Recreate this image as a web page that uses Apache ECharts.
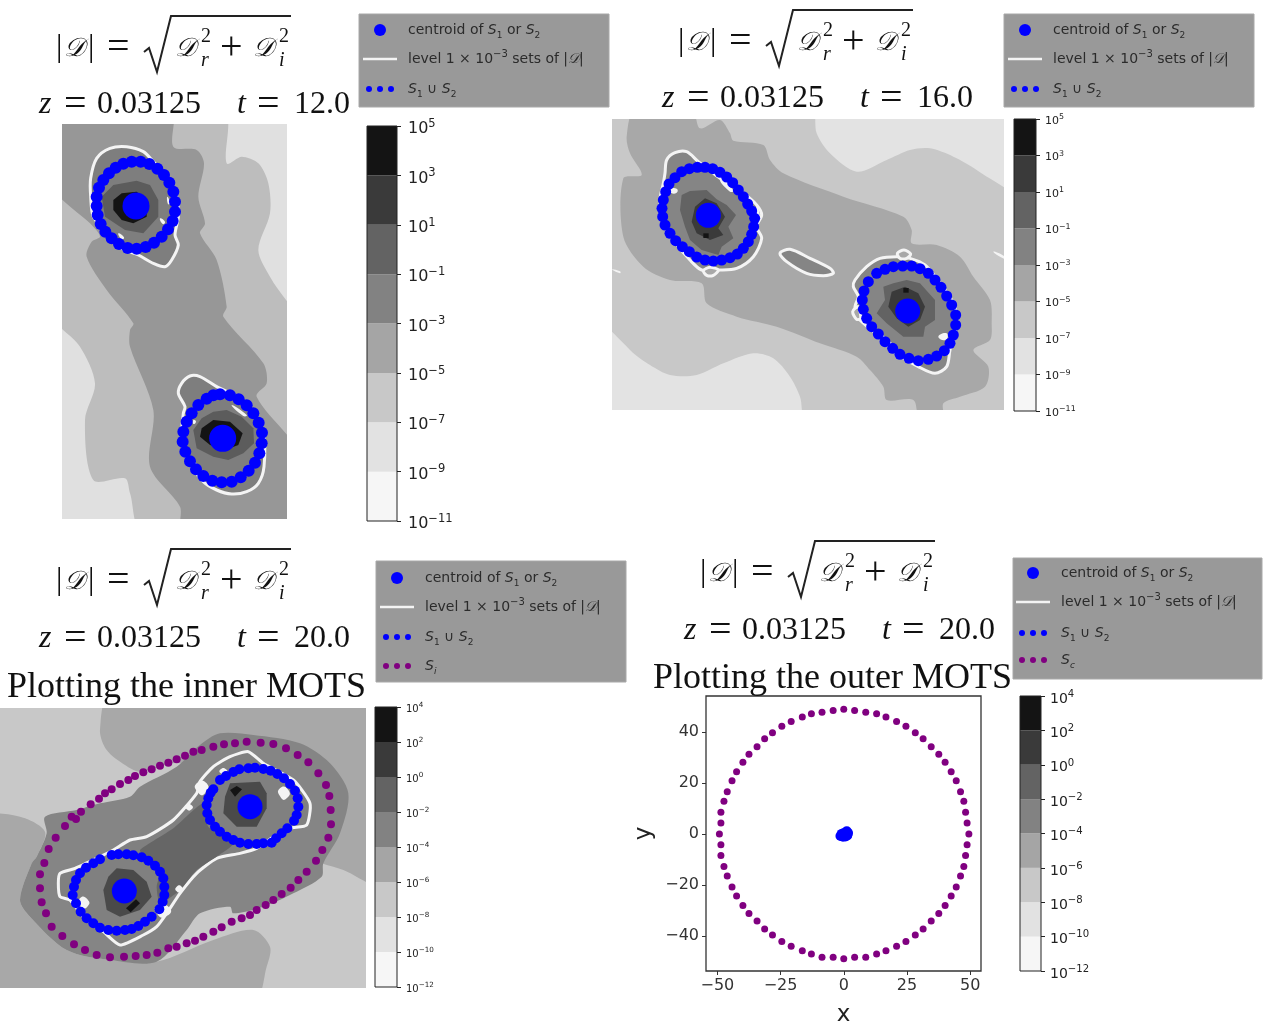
<!DOCTYPE html>
<html>
<head>
<meta charset="utf-8">
<style>html, body { margin: 0; background: #fff } #chart { width: 1263px; height: 1033px; filter: blur(0.5px) }</style>
<script src="https://cdn.jsdelivr.net/npm/echarts@6/dist/echarts.min.js"></script>
</head>
<body>
<div id="chart"></div>
<script>
// band colours, bottom to top, and tick exponents of the colour bars
const barGreys = ['#f6f6f6', '#e2e2e2', '#c8c8c8', '#a5a5a5', '#828282', '#636363', '#3a3a3a', '#141414']
const labelsOdd = ['−11', '−9', '−7', '−5', '−3', '−1', '1', '3', '5']
const labelsEven = ['−12', '−10', '−8', '−6', '−4', '−2', '0', '2', '4']

// t = 12
const a1Band = [[0,-30],[518,-30],[530,130],[575,110],[625,130],[655,190],[660,280],[625,390],[660,470],[760,640],[760,1240],[280,1240],[240,1120],[225,1075],[130,1080],[105,900],[135,790],[90,680],[0,575]]
const a1Mid = [[0,-30],[362,-30],[370,80],[440,90],[462,130],[445,230],[465,310],[450,340],[500,420],[530,560],[520,590],[640,730],[650,790],[620,830],[760,1020],[760,1240],[397,1240],[390,1160],[300,1040],[310,870],[240,680],[240,630],[250,610],[170,510],[110,410],[125,365],[150,350],[130,320],[0,190]]
const a1ContourA = [[122,175],[140,115],[180,85],[230,80],[280,95],[310,125],[350,170],[380,230],[385,290],[375,345],[385,375],[365,420],[345,440],[310,430],[265,405],[215,385],[165,330],[130,290],[122,230]]
const a1ContourB = [[385,820],[395,790],[420,768],[450,770],[500,800],[560,830],[610,880],[640,940],[642,1040],[625,1090],[590,1115],[545,1122],[500,1110],[460,1085],[420,1030],[395,960],[400,880],[405,860]]
const a1InnerA = [[260,182],[300,195],[325,240],[325,290],[280,340],[225,330],[165,290],[155,230],[190,195]]
const a1InnerB = [[490,875],[530,870],[575,890],[610,925],[612,970],[580,1000],[535,1020],[490,1010],[440,985],[430,930],[455,895]]
const a1CoreA = [[190,240],[215,220],[260,215],[290,240],[290,290],[250,310],[215,300],[190,270]]
const a1CoreB = [[455,925],[490,900],[540,905],[578,940],[565,975],[525,990],[480,975],[450,950]]
const a1Flecks = [[[205,340],[222,352],[215,358]], [[352,230],[360,250],[354,252]], [[330,295],[345,305],[338,312]], [[545,855],[590,885],[580,888]], [[430,900],[438,905],[430,912]], [[430,1025],[450,1040],[440,1042]]]
const a1RingA = [[245,125],[272,125],[298,132],[322,146],[342,165],[358,188],[370,215],[375,245],[375,275],[368,303],[354,328],[335,350],[312,368],[287,381],[260,386],[233,384],[207,372],[185,355],[166,335],[152,312],[143,285],[140,258],[140,230],[147,203],[160,180],[177,160],[197,143],[220,131]]
const a1RingB = [[510,823],[540,826],[566,838],[590,856],[610,880],[626,908],[636,938],[635,970],[628,1000],[615,1028],[596,1052],[572,1072],[545,1085],[515,1087],[487,1082],[460,1068],[438,1048],[420,1024],[406,995],[398,965],[400,935],[410,905],[425,880],[445,855],[470,836],[490,826]]
const a1Centroids = [[258,258],[518,955]]

// t = 16
const a2Band = [[-40,-20],[600,-20],[620,70],[660,130],[740,185],[830,150],[900,120],[960,115],[1030,140],[1100,180],[1230,290],[1230,950],[595,950],[570,860],[540,800],[490,745],[430,730],[340,760],[260,795],[180,795],[120,765],[60,720],[-40,590]]
const a2Mid = [[75,0],[245,0],[270,55],[330,30],[360,70],[370,92],[460,105],[480,150],[520,190],[700,260],[880,320],[905,360],[905,400],[980,405],[1050,440],[1090,500],[1140,570],[1145,640],[1140,690],[1090,720],[1135,770],[1125,830],[1050,860],[1000,880],[1000,930],[930,930],[910,870],[830,870],[820,830],[780,780],[740,740],[630,700],[500,650],[380,620],[290,580],[275,520],[180,510],[100,470],[40,380],[40,205],[95,195],[60,130],[50,80]]
const a2ContourA = [[165,190],[170,150],[195,128],[230,125],[265,155],[330,205],[400,250],[440,285],[455,315],[440,350],[455,385],[430,440],[380,475],[325,480],[275,480],[240,450],[190,390],[160,340],[150,270],[160,220]]
const a2ContourB = [[735,510],[770,470],[810,445],[860,440],[900,445],[945,465],[990,520],[1030,580],[1040,640],[1020,720],[1010,770],[975,790],[925,770],[860,730],[810,680],[745,625],[735,590],[745,560],[730,530]]
const a2Sliver = [[510,430],[540,418],[600,445],[660,475],[670,490],[640,497],[590,490],[530,455]]
const a2LoopA = [[280,482],[300,472],[325,480],[310,496],[290,496]]
const a2LoopB = [[862,430],[882,420],[902,432],[890,445],[870,445]]
const a2LoopC = [[745,590],[728,605],[740,628],[752,625]]
const a2InnerA = [[215,255],[240,243],[290,240],[320,268],[350,285],[378,315],[355,350],[370,385],[335,410],[325,435],[275,420],[240,390],[225,350],[210,300]]
const a2InnerB = [[820,530],[850,520],[890,510],[930,520],[975,570],[975,630],[945,650],[940,680],[880,680],[830,640],[800,610],[825,570]]
const a2CoreA = [[255,290],[285,265],[320,280],[345,320],[325,355],[340,375],[300,390],[260,370],[245,335]]
const a2CoreB = [[845,545],[885,530],[925,550],[945,590],[930,630],[895,650],[860,625],[835,590]]
const a2SpecA = [[280,370],[296,370],[296,384],[280,384]]
const a2SpecB = [[880,534],[896,534],[896,548],[880,548]]
const a2Flecks = [[[180,238],[200,236],[200,248],[182,248]], [[330,210],[370,240],[360,245]], [[985,680],[1010,670],[1008,690]], [[810,670],[860,715],[850,718]], [[440,290],[450,320],[440,325]], [[6,478],[30,484],[30,490]], [[1150,425],[1182,438],[1182,446]]]
const a2RingA = [[215,185],[238,176],[262,172],[285,172],[308,176],[330,187],[350,201],[368,218],[385,240],[400,260],[413,282],[425,303],[434,325],[431,350],[425,373],[415,395],[400,415],[382,432],[360,443],[335,450],[310,453],[285,450],[260,441],[238,425],[217,410],[197,392],[180,370],[165,345],[158,320],[156,295],[160,270],[167,245],[177,222],[195,203]]
const a2RingB = [[800,490],[825,478],[850,470],[878,468],[905,468],[930,476],[955,490],[975,510],[993,532],[1010,558],[1025,585],[1037,615],[1037,645],[1030,675],[1020,700],[1003,722],[980,738],[955,748],[925,752],[897,745],[870,733],[848,715],[825,695],[805,672],[785,650],[770,625],[760,598],[757,570],[762,543],[775,515]]
const a2Centroids = [[295,316],[893,603]]

// t = 20, inner
const a3Top = [[335,-20],[1140,-20],[1140,550],[1030,510],[965,490],[860,450],[650,270],[540,190],[420,215],[375,195],[320,150],[300,90]]
const a3Low = [[-40,355],[60,350],[135,395],[110,470],[95,490],[60,600],[90,650],[200,750],[330,780],[470,785],[640,720],[760,690],[810,740],[800,800],[760,900],[-40,900]]
const a3Mid = [[135,350],[230,330],[300,310],[390,290],[420,260],[530,200],[600,135],[660,100],[760,105],[900,130],[990,190],[1045,280],[1020,400],[970,490],[965,530],[880,580],[790,620],[700,640],[690,620],[600,640],[560,690],[470,785],[330,780],[200,750],[90,650],[60,600],[95,490],[110,470],[140,400]]
const a3Contour = [[180,520],[225,505],[300,470],[340,450],[390,420],[440,410],[520,360],[590,280],[600,245],[640,200],[690,170],[745,155],[790,190],[880,240],[930,310],[920,375],[870,385],[820,410],[770,445],[720,460],[650,475],[590,520],[540,580],[500,640],[470,680],[430,705],[360,735],[310,695],[250,650],[210,600],[180,590],[175,550]]
const a3Neck = [[420,450],[520,385],[610,310],[625,380],[700,430],[650,470],[590,510],[540,570],[480,610],[470,560],[480,510],[430,465]]
const a3InnerA = [[675,290],[690,250],[780,245],[800,280],[800,325],[770,380],[710,380],[670,340]]
const a3InnerB = [[350,505],[400,510],[440,545],[455,590],[420,630],[360,650],[320,630],[310,570],[325,530]]
const a3SpecA = [[690,270],[710,258],[726,268],[705,290]]
const a3SpecB = [[378,625],[408,598],[420,610],[392,637]]
const a3Flecks = [[[662,208],[678,208],[678,220],[662,220]], [[560,316],[575,316],[575,328],[560,328]], [[530,560],[545,560],[545,574],[530,574]], [[590,250],[620,250],[615,280],[595,278]], [[840,265],[865,270],[860,295],[842,292]], [[240,595],[262,598],[262,620],[242,620]], [[470,620],[510,625],[495,650],[470,640]]]
const a3RingA = [[745,205],[765,203],[790,207],[812,212],[832,222],[852,235],[870,252],[885,272],[893,295],[895,320],[890,345],[882,362],[862,385],[845,400],[828,415],[815,428],[790,430],[770,432],[745,432],[720,428],[700,420],[680,410],[660,395],[645,380],[630,360],[622,340],[620,315],[625,295],[632,278],[640,268],[660,240],[678,228],[700,216],[718,208]]
const a3RingB = [[222,560],[228,540],[240,520],[258,503],[280,490],[300,478],[335,465],[355,463],[380,463],[400,466],[425,472],[445,482],[465,497],[480,515],[490,535],[493,560],[493,585],[488,605],[478,628],[455,650],[435,665],[415,678],[395,687],[375,690],[350,692],[325,690],[300,683],[280,670],[260,655],[242,635],[228,610],[218,585]]
const a3Outer = [[740,125],[705,130],[672,133],[640,140],[605,150],[580,155],[555,167],[530,178],[505,188],[480,197],[455,208],[430,217],[405,228],[385,240],[360,252],[335,268],[315,280],[297,296],[272,313],[243,335],[228,357],[215,350],[195,378],[167,413],[146,447],[133,489],[120,523],[120,565],[125,607],[138,640],[155,680],[187,708],[222,733],[255,750],[290,765],[330,772],[372,770],[407,768],[440,765],[472,758],[505,745],[530,740],[560,730],[585,722],[610,710],[640,695],[665,682],[695,665],[725,655],[750,645],[770,630],[797,615],[820,600],[845,582],[872,563],[895,540],[920,515],[948,482],[967,450],[985,413],[993,373],[992,330],[988,288],[978,255],[955,220],[925,187],[893,165],[858,145],[820,132],[782,128]]
const a3Centroids = [[750,320],[373,573]]

// t = 20, outer
const xTicks = [-50, -25, 0, 25, 50]
const yTicks = [-40, -20, 0, 20, 40]
const outerMots = [[0,48.9],[4.3,48.4],[8.7,47.7],[13,47.1],[16.7,45.9],[20.9,44.1],[24.6,42.2],[28.3,39.7],[31.4,37.3],[34.6,34.2],[37.6,31.2],[40.1,28.1],[42.5,24.4],[44.5,20.8],[46.2,16.5],[47.5,12.8],[48.2,8.5],[48.8,4.3],[49.5,0],[48.8,-4.3],[48.2,-8.5],[47.5,-12.8],[46.2,-16.5],[44.5,-20.8],[42.5,-24.4],[40.1,-28.1],[37.6,-31.2],[34.6,-34.2],[31.4,-37.3],[28.3,-39.7],[24.6,-42.2],[20.9,-44.1],[16.7,-45.9],[13,-47.1],[8.7,-48.4],[4.3,-48.4],[0,-49],[-4.2,-48.4],[-8.6,-48.4],[-12.8,-47.1],[-16.4,-45.9],[-20.8,-44.1],[-24.5,-42.2],[-28.2,-39.7],[-31.3,-37.3],[-34.3,-34.2],[-37.5,-31.2],[-39.9,-28.1],[-42.4,-24.4],[-44.2,-20.8],[-46.1,-16.5],[-47.4,-12.8],[-48.6,-8.5],[-48.6,-4.3],[-49.2,0],[-48.6,4.3],[-48.6,8.5],[-47.4,12.8],[-46.1,16.5],[-44.2,20.8],[-42.4,24.4],[-39.9,28.1],[-37.5,31.2],[-34.3,34.2],[-31.3,37.3],[-28.2,39.7],[-24.5,42.2],[-20.8,44.1],[-16.4,45.9],[-12.8,47.1],[-8.6,47.7],[-4.2,48.4]]
const innerBlob = [[-1.3,-0.8],[-0.8,0],[-0.3,-1.1],[0.2,-0.5],[0.7,0.5],[1.2,1],[1.7,0.3],[1.4,-0.6],[0.7,-1],[-0.1,0.2]]

const grid = [], xAxis = [], yAxis = [], series = [], graphic = []
const whiteLine = '#f4f4f4'
const serif = '"Liberation Serif"'
const sans = '"DejaVu Sans"'

const addMap = (box, xr, yr, bg) => {
	grid.push({ left: box[0], top: box[1], width: box[2], height: box[3], show: true, borderWidth: 0, backgroundColor: bg })
	xAxis.push({ gridIndex: grid.length - 1, type: 'value', min: xr[0], max: xr[1], show: false })
	yAxis.push({ gridIndex: grid.length - 1, type: 'value', min: yr[0], max: yr[1], inverse: true, show: false })
	return grid.length - 1
}

const shape = (i, pts, fill, stroke, smooth) => series.push({
	type: 'custom', xAxisIndex: i, yAxisIndex: i, clip: true, silent: true, data: pts,
	renderItem: (params, api) => params.dataIndex ? null : {
		type: 'polygon',
		shape: { points: pts.map(p => api.coord(p)), smooth: smooth || 0 },
		style: { fill: fill, stroke: stroke, lineWidth: stroke ? 3 : 0 }
	}
})

const dots = (i, pts, color, size) => series.push({
	type: 'scatter', xAxisIndex: i, yAxisIndex: i, silent: true, data: pts,
	symbolSize: size, itemStyle: { color: color, opacity: 1 }
})

const addBar = (box, labels, fontSize, margin) => {
	grid.push({ left: box[0], top: box[1], width: box[2], height: box[3], show: true, borderWidth: 0, backgroundColor: '#fff' })
	const i = grid.length - 1
	xAxis.push({ gridIndex: i, type: 'value', min: 0, max: 1, show: false })
	yAxis.push({
		gridIndex: i, type: 'value', position: 'right', min: 0, max: labels.length - 1, interval: 1,
		splitLine: { show: false }, axisLine: { show: false, onZero: false },
		axisTick: { length: 4, lineStyle: { color: '#222' } },
		axisLabel: {
			margin: margin,
			padding: [Math.round(fontSize * 0.4), 0, 0, 0],
			formatter: v => '{a|10}{b|' + labels[v] + '}',
			rich: {
				a: { color: '#222', fontSize: fontSize, fontFamily: sans, lineHeight: fontSize * 1.4 },
				b: { color: '#222', fontSize: fontSize * 0.72, fontFamily: sans, lineHeight: fontSize * 1.4, verticalAlign: 'top' }
			}
		}
	})
	series.push({
		type: 'custom', xAxisIndex: i, yAxisIndex: i, silent: true, data: barGreys,
		renderItem: (params, api) => {
			const a = api.coord([0, params.dataIndex + 1])
			const b = api.coord([1, params.dataIndex])
			return { type: 'rect', shape: { x: a[0], y: a[1], width: b[0] - a[0], height: b[1] - a[1] }, style: { fill: barGreys[params.dataIndex] } }
		}
	})
	graphic.push({
		type: 'rect', silent: true, z: 10,
		shape: { x: box[0], y: box[1], width: box[2], height: box[3] },
		style: { fill: 'none', stroke: '#222', lineWidth: 1 }
	})
}

const say = (x, y, text, font, style) => graphic.push({
	type: 'text', x: x, y: y, silent: true,
	style: Object.assign({ text: text, font: font, fill: '#111', verticalAlign: 'middle' }, style)
})

// |D| = sqrt(Dr^2 + Di^2) and the z, t line underneath
const header = (dx, dy, zx, zy, t) => {
	const big = '32px ' + serif, wide = '40px ' + serif, it = 'italic ' + big, cal = 'italic 26px ' + serif
	const small = '20px ' + serif, sub = 'italic 20px ' + serif
	say(dx + 56, dy + 48, '|', big)
	say(dx + 64, dy + 49, '𝒟', cal)
	say(dx + 88, dy + 48, '|', big)
	say(dx + 107, dy + 48, '=', wide)
	graphic.push({
		type: 'polyline', silent: true,
		shape: { points: [[dx + 144, dy + 52], [dx + 149, dy + 48], [dx + 157, dy + 72], [dx + 171, dy + 16], [dx + 291, dy + 16]] },
		style: { stroke: '#222', lineWidth: 2, fill: 'none' }
	})
	say(dx + 175, dy + 49, '𝒟', cal)
	say(dx + 201, dy + 37, '2', small)
	say(dx + 201, dy + 61, 'r', sub)
	say(dx + 220, dy + 48, '+', wide)
	say(dx + 253, dy + 49, '𝒟', cal)
	say(dx + 279, dy + 37, '2', small)
	say(dx + 279, dy + 61, 'i', sub)
	say(zx, zy, 'z', it)
	say(zx + 25, zy, '=', wide)
	say(zx + 58, zy, '0.03125', big)
	say(zx + 198, zy, 't', it)
	say(zx + 218, zy, '=', wide)
	say(zx + 255, zy, t, big)
}

const legendRich = {
	t: { font: '14px ' + sans, fill: '#2b2b2b', lineHeight: 20 },
	i: { font: 'italic 14px ' + sans, fill: '#2b2b2b', lineHeight: 20 },
	u: { font: '10px ' + sans, fill: '#2b2b2b', lineHeight: 20, verticalAlign: 'top' },
	s: { font: '9px ' + sans, fill: '#2b2b2b', lineHeight: 20, verticalAlign: 'bottom' },
	si: { font: 'italic 9px ' + sans, fill: '#2b2b2b', lineHeight: 20, verticalAlign: 'bottom' }
}

const legend = (box, rows, iconX, textX, last) => {
	graphic.push({
		type: 'rect', silent: true,
		shape: { x: box[0], y: box[1], width: box[2], height: box[3] },
		style: { fill: '#999999', stroke: '#a8a8a8', lineWidth: 1 }
	})
	graphic.push({ type: 'circle', silent: true, shape: { cx: iconX, cy: rows[0], r: 6 }, style: { fill: '#0000ff' } })
	graphic.push({ type: 'line', silent: true, shape: { x1: iconX - 17, y1: rows[1], x2: iconX + 17, y2: rows[1] }, style: { stroke: whiteLine, lineWidth: 2.5 } })
	const three = (y, color) => [-11, 0, 11].forEach(d => graphic.push({ type: 'circle', silent: true, shape: { cx: iconX + d, cy: y, r: 3 }, style: { fill: color } }))
	three(rows[2], '#0000ff')
	const lines = [
		'{t|centroid of }{i|S}{s|1}{t| or }{i|S}{s|2}',
		'{t|level 1 × 10}{u|−3}{t| sets of |}{i|𝒟}{t||}',
		'{i|S}{s|1}{t| ∪ }{i|S}{s|2}'
	]
	lines.forEach((text, i) => say(textX, rows[i], text, '14px ' + sans, { rich: legendRich, fill: '#2b2b2b' }))
	if (last) {
		three(rows[3], '#800080')
		say(textX, rows[3], '{i|S}{si|' + last + '}', '14px ' + sans, { rich: legendRich })
	}
}

// top left
let m = addMap([62, 124, 225, 395], [36, 711], [12, 1197], '#e0e0e0')
shape(m, a1Band, '#bdbdbd', null, 0.3)
shape(m, a1Mid, '#979797', null, 0.3)
shape(m, a1ContourA, '#7e7e7e', whiteLine, 0.3)
shape(m, a1ContourB, '#7e7e7e', whiteLine, 0.3)
shape(m, a1InnerA, '#5c5c5c')
shape(m, a1InnerB, '#5c5c5c')
shape(m, a1CoreA, '#141414')
shape(m, a1CoreB, '#141414')
a1Flecks.forEach(f => shape(m, f, whiteLine, null, 0.6))
dots(m, a1RingA, '#0000ff', 12)
dots(m, a1RingB, '#0000ff', 12)
dots(m, a1Centroids, '#0000ff', 27)
addBar([367, 126, 30, 395], labelsOdd, 16, 11)
header(0, 0, 39, 105, '12.0')
legend([359, 14, 250, 93], [30, 59, 89], 380, 408)

// top right
m = addMap([612, 119, 392, 291], [6, 1182], [27, 900], '#e3e3e3')
shape(m, a2Band, '#c8c8c8', null, 0.3)
shape(m, a2Mid, '#a8a8a8', null, 0.3)
shape(m, a2ContourA, '#858585', whiteLine, 0.3)
shape(m, a2ContourB, '#858585', whiteLine, 0.3)
shape(m, a2Sliver, '#858585', whiteLine, 0.3)
shape(m, a2LoopA, '#a8a8a8', whiteLine, 0.3)
shape(m, a2LoopB, '#a8a8a8', whiteLine, 0.3)
shape(m, a2LoopC, '#a8a8a8', whiteLine, 0.3)
shape(m, a2InnerA, '#636363')
shape(m, a2InnerB, '#636363')
shape(m, a2CoreA, '#3a3a3a')
shape(m, a2CoreB, '#3a3a3a')
shape(m, a2SpecA, '#141414')
shape(m, a2SpecB, '#141414')
a2Flecks.forEach(f => shape(m, f, whiteLine, null, 0.6))
dots(m, a2RingA, '#0000ff', 11)
dots(m, a2RingB, '#0000ff', 11)
dots(m, a2Centroids, '#0000ff', 25)
addBar([1014, 119, 22, 292], labelsOdd, 11, 9)
header(622, -6, 662, 99, '16.0')
legend([1004, 14, 250, 93], [30, 59, 89], 1025, 1053)

// bottom left
m = addMap([0, 708, 366, 280], [0, 1098], [24, 864], '#c8c8c8')
shape(m, a3Top, '#a8a8a8', null, 0.3)
shape(m, a3Low, '#a8a8a8', null, 0.3)
shape(m, a3Mid, '#858585', null, 0.3)
shape(m, a3Contour, '#808080', whiteLine, 0.2)
shape(m, a3Neck, '#666666', null, 0.2)
shape(m, a3InnerA, '#4a4a4a')
shape(m, a3InnerB, '#4a4a4a')
shape(m, a3SpecA, '#141414')
shape(m, a3SpecB, '#141414')
a3Flecks.forEach(f => shape(m, f, whiteLine, null, 0.8))
dots(m, a3Outer, '#800080', 8)
dots(m, a3RingA, '#0000ff', 10)
dots(m, a3RingB, '#0000ff', 10)
dots(m, a3Centroids, '#0000ff', 25)
addBar([375, 707, 22, 280], labelsEven, 10, 9)
header(0, 533, 39, 639, '20.0')
say(7, 688, 'Plotting the inner MOTS', '36px ' + serif)
legend([376, 561, 250, 121], [578, 607, 637, 666], 397, 425, 'i')

// bottom right
grid.push({ left: 706, top: 696, width: 275, height: 275, show: true, borderColor: '#333', borderWidth: 1.3, backgroundColor: '#fff' })
m = grid.length - 1
xAxis.push({
	gridIndex: m, type: 'value', min: -54.5, max: 54.3, name: 'x', nameLocation: 'middle', nameGap: 33,
	nameTextStyle: { fontSize: 23, color: '#222', fontFamily: sans },
	splitLine: { show: false }, axisLine: { show: false, onZero: false },
	axisTick: { customValues: xTicks, length: 4, lineStyle: { color: '#333' } },
	axisLabel: { customValues: xTicks, color: '#333', fontSize: 16, fontFamily: sans, margin: 7, formatter: v => String(v).replace('-', '−') }
})
yAxis.push({
	gridIndex: m, type: 'value', min: -53.8, max: 54.1, name: 'y', nameLocation: 'middle', nameGap: 50,
	nameTextStyle: { fontSize: 23, color: '#222', fontFamily: sans },
	splitLine: { show: false }, axisLine: { show: false, onZero: false },
	axisTick: { customValues: yTicks, length: 4, lineStyle: { color: '#333' } },
	axisLabel: { customValues: yTicks, color: '#333', fontSize: 16, fontFamily: sans, margin: 7, formatter: v => String(v).replace('-', '−') }
})
dots(m, outerMots, '#800080', 7)
dots(m, innerBlob, '#0000ff', 10)
addBar([1020, 696, 21, 275], labelsEven, 14, 9)
header(644, 525, 684, 631, '20.0')
say(653, 679, 'Plotting the outer MOTS', '36px ' + serif)
legend([1013, 558, 249, 121], [573, 602, 633, 660], 1033, 1061, 'c')

const chart = echarts.init(document.getElementById('chart'))
chart.setOption({
	animation: false,
	backgroundColor: '#fff',
	grid: grid,
	xAxis: xAxis,
	yAxis: yAxis,
	series: series,
	graphic: { elements: graphic }
})
</script>
</body>
</html>
